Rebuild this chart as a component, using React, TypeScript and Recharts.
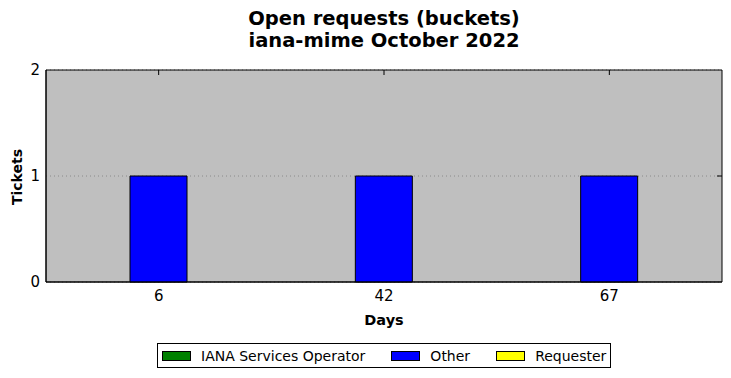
import React from "react";
import {
  BarChart,
  Bar,
  XAxis,
  YAxis,
  CartesianGrid,
  ReferenceArea,
  ReferenceLine,
} from "recharts";

// ticket age buckets (days) and counts per owner
const DAYS = ["6", "42", "67"];
const IANA_OPERATOR = [0, 0, 0];
const OTHER = [1, 1, 1];
const REQUESTER = [0, 0, 0];
const Y_TICKS = [0, 1, 2];

const SERIES = [
  { key: "iana", name: "IANA Services Operator", values: IANA_OPERATOR, color: "#008000" },
  { key: "other", name: "Other", values: OTHER, color: "#0000ff" },
  { key: "requester", name: "Requester", values: REQUESTER, color: "#ffff00" },
];

const FONT = "'DejaVu Sans', sans-serif";
const TICK_LEN = 5;

// inward tick marks along the top and right frame edges
const TopTick = (p: any) => {
  const y = Math.min(p.y1, p.y2);
  return <line x1={p.x1} x2={p.x1} y1={y} y2={y + TICK_LEN} stroke="#000" strokeWidth={1} />;
};
const RightTick = (p: any) => {
  const x = Math.max(p.x1, p.x2);
  return <line x1={x - TICK_LEN} x2={x} y1={p.y1} y2={p.y1} stroke="#000" strokeWidth={1} />;
};

export default function App() {
  const rows = DAYS.map((d, i) => {
    const row: Record<string, string | number> = { day: d };
    for (const s of SERIES) row[s.key] = s.values[i];
    return row;
  });

  return (
    <div
      style={{
        position: "relative",
        width: 731,
        height: 378,
        margin: -8,
        background: "#fff",
        fontFamily: FONT,
      }}
    >
      <div
        style={{
          position: "absolute",
          left: 46,
          width: 676,
          top: 8,
          textAlign: "center",
          fontWeight: "bold",
          fontSize: 19.5,
          lineHeight: "22px",
          color: "#000",
        }}
      >
        <div>Open requests (buckets)</div>
        <div>iana-mime October 2022</div>
      </div>

      <BarChart
        width={731}
        height={378}
        data={rows}
        margin={{ top: 70, right: 9, bottom: 66, left: 0 }}
        barCategoryGap={0}
      >
        <CartesianGrid
          vertical={false}
          fill="#bfbfbf"
          fillOpacity={1}
          stroke="#8a8a8a"
          strokeDasharray="1 3"
          yAxisId="left"
        />
        <XAxis
          dataKey="day"
          height={30}
          axisLine={{ stroke: "#000" }}
          tickLine={false}
          tickSize={0}
          tickMargin={8}
          tick={{ fill: "#000", fontSize: 15, fontFamily: FONT }}
          label={{
            content: () => (
              <text
                x={384}
                y={325}
                textAnchor="middle"
                fontFamily={FONT}
                fontWeight="bold"
                fontSize={14.5}
                fill="#000"
              >
                Days
              </text>
            ),
          }}
        />
        <YAxis
          yAxisId="left"
          width={46}
          domain={[0, 2]}
          ticks={Y_TICKS}
          allowDecimals={false}
          axisLine={{ stroke: "#000" }}
          tickLine={false}
          tickSize={0}
          tickMargin={6}
          tick={{ fill: "#000", fontSize: 15, fontFamily: FONT }}
          label={{
            content: () => (
              <text
                x={17}
                y={177}
                transform="rotate(-90 17 177)"
                textAnchor="middle"
                dominantBaseline="central"
                fontFamily={FONT}
                fontWeight="bold"
                fontSize={14}
                fill="#000"
              >
                Tickets
              </text>
            ),
          }}
        />
        {SERIES.map((s) => (
          <Bar
            key={s.key}
            dataKey={s.key}
            name={s.name}
            stackId="a"
            yAxisId="left"
            barSize={57}
            fill={s.color}
            stroke="#000"
            strokeWidth={1}
            isAnimationActive={false}
          />
        ))}
        <ReferenceArea
          yAxisId="left"
          x1={DAYS[0]}
          x2={DAYS[DAYS.length - 1]}
          y1={Y_TICKS[0]}
          y2={Y_TICKS[Y_TICKS.length - 1]}
          fill="none"
          stroke="#000"
          strokeWidth={1}
          ifOverflow="visible"
        />
        {DAYS.map((d) => (
          <ReferenceLine key={d} yAxisId="left" x={d} shape={TopTick} ifOverflow="visible" />
        ))}
        {Y_TICKS.slice(1, -1).map((t) => (
          <ReferenceLine key={t} yAxisId="left" y={t} shape={RightTick} ifOverflow="visible" />
        ))}
      </BarChart>

      <div
        style={{
          position: "absolute",
          left: 157,
          top: 343,
          width: 452,
          height: 23,
          border: "1px solid #000",
          display: "flex",
          alignItems: "center",
          fontSize: 14,
          color: "#000",
          boxSizing: "content-box",
        }}
      >
        {SERIES.map((s, i) => (
          <div
            key={s.key}
            style={{
              display: "flex",
              alignItems: "center",
              marginLeft: i === 0 ? 4 : 26,
            }}
          >
            <span
              style={{
                display: "inline-block",
                width: 27,
                height: 8,
                background: s.color,
                border: "1px solid #000",
                marginRight: 10,
              }}
            />
            <span>{s.name}</span>
          </div>
        ))}
      </div>
    </div>
  );
}
